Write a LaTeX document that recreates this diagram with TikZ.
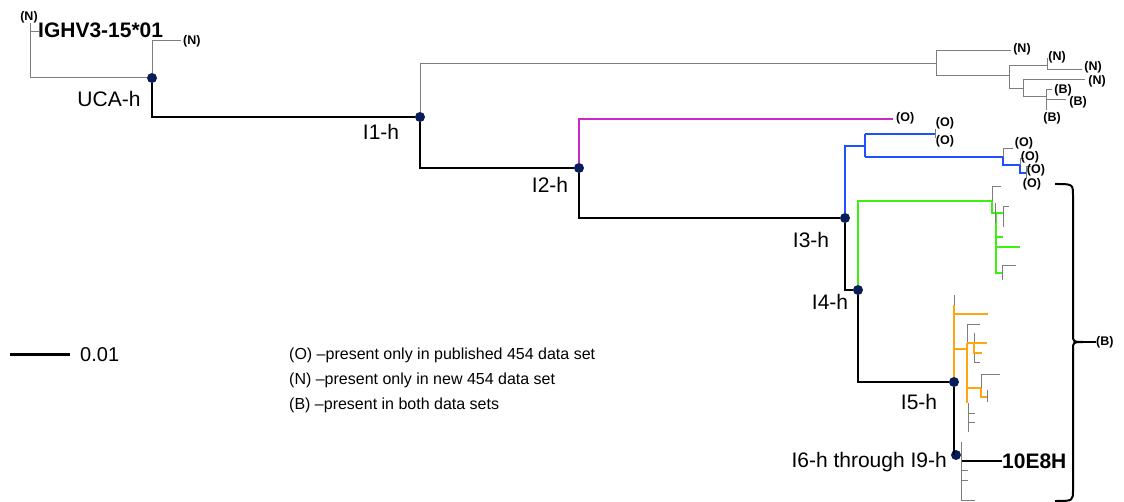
\documentclass[tikz,border=0pt]{standalone}
\usepackage{fontspec}
\setmainfont{Liberation Sans}
\usetikzlibrary{positioning}
\definecolor{navy}{RGB}{8,30,90}
\definecolor{magbr}{RGB}{204,40,204}
\definecolor{bluebr}{RGB}{30,80,255}
\definecolor{greenbr}{RGB}{60,240,20}
\definecolor{orangebr}{RGB}{255,165,20}
\definecolor{leafgray}{RGB}{125,125,125}

\begin{document}
\begin{tikzpicture}[x=1pt,y=-1pt,
    trunk/.style={line width=2.4pt,black},
    twig/.style={line width=1pt,leafgray},
    magline/.style={line width=2.4pt,magbr},
    blueline/.style={line width=2.4pt,bluebr},
    greenline/.style={line width=2.4pt,greenbr},
    orangeline/.style={line width=2.4pt,orangebr},
    junction/.style={circle,fill=navy,minimum size=10pt,inner sep=0pt},
    tag/.style={font=\fontsize{12.5}{14}\selectfont\bfseries,inner sep=0pt},
    hname/.style={font=\fontsize{21}{25}\selectfont,inner sep=0pt},
    bigname/.style={font=\fontsize{21}{25}\selectfont\bfseries,inner sep=0pt,anchor=west},
    legend/.style={font=\fontsize{16}{19}\selectfont,inner sep=0pt,anchor=west}]
  \useasboundingbox (0,0) rectangle (1124,502);
  %draw ancestors
    \coordinate (g) at (30,78);
    \node[junction] (uca) at (152,78) {};
    \node[junction] (i1) at (420,117) {};
    \node[junction] (i2) at (579,168) {};
    \node[junction] (i3) at (845,218) {};
    \node[junction] (i4) at (858,290) {};
    \node[junction] (i5) at (954,382) {};
    \node[junction] (i6) at (956,455) {};
  %germline and UCA
    \draw[twig] (30,23) -- (g);
    \draw[twig] (30,32) -- (39,32);
    \node[tag] (tg) at (29,17) {(N)};
    \node[bigname] (ighv) at (38,30) {IGHV3-15*01};
    \draw[twig] (g) -- (uca);
    \draw[twig] (uca) |- (181,41);
    \node[tag,anchor=west] (tu) at (183,41) {(N)};
  %trunk
    \draw[trunk] (uca) |- (i1);
    \draw[trunk] (i1) |- (i2);
    \draw[trunk] (i2) |- (i3);
    \draw[trunk] (i3) |- (i4);
    \draw[trunk] (i4) |- (i5);
    \draw[trunk] (i5) -- (954,455);
    \coordinate (e8) at (961,461);
    \node[bigname] (mab) at (1002,461) {10E8H};
    \draw[trunk] (e8) -- (mab.west);
  %ancestor labels
    \node[hname] (luca) at (109,99) {UCA-h};
    \node[hname] (li1) at (381,132) {I1-h};
    \node[hname] (li2) at (550,185) {I2-h};
    \node[hname] (li3) at (811,240) {I3-h};
    \node[hname] (li4) at (830,302) {I4-h};
    \node[hname] (li5) at (919,402) {I5-h};
    \node[hname,anchor=east] (li6) at (947,462) {I6-h through I9-h};
  %grey clade from I1
    \draw[twig] (i1) |- (936,64);
    \draw[twig] (936,51) -- (936,76);
    \draw[twig] (936,51) -- (1011,51);
    \draw[twig] (936,76) -- (1009,76);
    \draw[twig] (1009,66) -- (1009,89);
    \draw[twig] (1009,66) -- (1047,66);
    \draw[twig] (1047,58) -- (1047,70) -- (1082,70);
    \draw[twig] (1009,89) -- (1023,89);
    \draw[twig] (1023,80) -- (1023,97);
    \draw[twig] (1023,80) -- (1085,80);
    \draw[twig] (1023,97) -- (1046,97);
    \draw[twig] (1046,90) -- (1046,110);
    \draw[twig] (1046,90) -- (1052,90);
    \draw[twig] (1046,100) -- (1066,100);
    \node[tag] (n1) at (1022,49) {(N)};
    \node[tag] (n2) at (1057,57) {(N)};
    \node[tag] (n3) at (1093,67) {(N)};
    \node[tag] (n4) at (1097,81) {(N)};
    \node[tag] (b1) at (1063,90) {(B)};
    \node[tag] (b2) at (1078,102) {(B)};
    \node[tag] (b3) at (1052,118) {(B)};
  %magenta branch
    \draw[magline] (i2) |- (893,119);
    \node[tag,anchor=west] (o1) at (896,118) {(O)};
  %blue clade
    \draw[blueline] (i3) |- (865,146);
    \draw[blueline] (865,134) -- (865,157);
    \draw[blueline] (865,134) -- (935,134);
    \draw[twig] (935,129) -- (935,138);
    \draw[blueline] (865,157) -- (1003,157) -- (1003,165) -- (1020,165) -- (1020,173) -- (1026,173);
    \draw[twig] (1003,157) -- (1003,149) -- (1013,149);
    \draw[twig] (1020,165) -- (1020,159) -- (1024,159);
    \draw[twig] (1026,167) -- (1026,178);
    \draw[twig] (1026,167) -- (1031,167);
    \node[tag] (o2) at (945,123) {(O)};
    \node[tag] (o3) at (945,141) {(O)};
    \node[tag] (o4) at (1024,143) {(O)};
    \node[tag] (o5) at (1030,157) {(O)};
    \node[tag] (o6) at (1036,170) {(O)};
    \node[tag] (o7) at (1032,184) {(O)};
  %green clade
    \draw[greenline] (i4) |- (992,201);
    \draw[greenline] (992,201) -- (992,213) -- (1003,213);
    \draw[greenline] (996,213) -- (996,273) -- (1003,273);
    \draw[greenline] (996,237) -- (1003,237);
    \draw[greenline] (996,247) -- (1020,247);
    \draw[twig] (992,201) -- (992,187) -- (1001,187);
    \draw[twig] (995,203) -- (995,223);
    \draw[twig] (1003,227) -- (1003,207) -- (1009,207);
    \draw[twig] (1002,280) -- (1002,266) -- (1016,266);
  %orange clade
    \draw[orangeline] (i5) -- (954,305);
    \draw[twig] (954,295) -- (954,305);
    \draw[orangeline] (954,314) -- (988,314);
    \draw[orangeline] (954,349) -- (967,349);
    \draw[orangeline] (967,343) -- (967,403);
    \draw[twig] (967,343) -- (967,325) -- (980,325);
    \draw[twig] (974,333) -- (974,363) -- (980,363);
    \draw[orangeline] (967,343) -- (987,343);
    \draw[orangeline] (974,343) -- (974,353) -- (982,353);
    \draw[orangeline] (967,388) -- (981,388) -- (981,397) -- (987,397);
    \draw[twig] (981,388) -- (981,374) -- (1000,374);
    \draw[twig] (987,390) -- (987,402);
    \draw[twig] (968,403) -- (968,432);
    \draw[twig] (968,413) -- (975,413);
    \draw[twig] (968,422) -- (975,422);
  %leaves below I6
    \draw[twig] (961,442) -- (961,500) -- (975,500);
    \draw[twig] (961,470) -- (968,470);
    \draw[twig] (961,480) -- (968,480);
  %brace
    \draw[line width=2pt] (1055,184) .. controls (1073,184) .. (1073,196) -- (1073,334)
      .. controls (1073,342) .. (1083,342) .. controls (1073,342) .. (1073,350)
      -- (1073,490) .. controls (1073,501) .. (1055,501);
    \coordinate (tip) at (1083,342);
    \node[tag,anchor=west] (bb) at (1096,342) {(B)};
    \draw[line width=1.4pt] (tip) -- (bb.west);
  %scale bar and legend
    \coordinate (s0) at (10,355);
    \node[font=\fontsize{20}{24}\selectfont,inner sep=0pt,anchor=west] (scale) at (80,355) {0.01};
    \draw[line width=3pt] (s0) -- (70,355);
    \node[legend] (leg1) at (289,355) {(O) –present only in published 454 data set};
    \node[legend] (leg2) at (289,380) {(N) –present only in new 454 data set};
    \node[legend] (leg3) at (289,405) {(B) –present in both data sets};
\end{tikzpicture}
\end{document}
